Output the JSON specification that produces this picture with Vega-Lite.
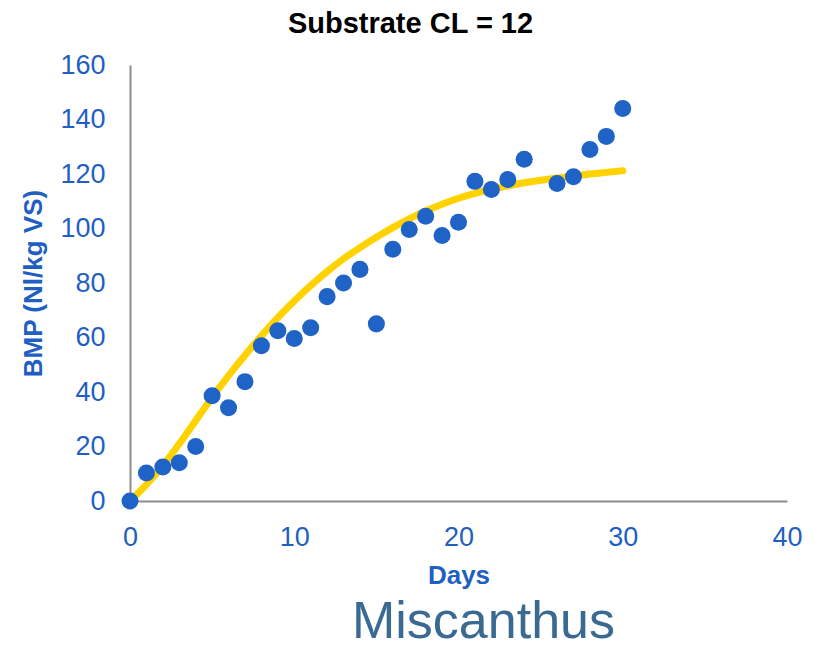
{
  "$schema": "https://vega.github.io/schema/vega-lite/v6.json",
  "background": "white",
  "padding": {"left": 20, "top": 10, "right": 10, "bottom": 0},
  "autosize": {"type": "pad"},
  "config": {"view": {"stroke": null}, "font": "Liberation Sans"},
  "datasets": {
    "obs": [
      {"day": 0, "bmp": 0}, {"day": 1, "bmp": 10.3}, {"day": 2, "bmp": 12.5}, {"day": 3, "bmp": 14},
      {"day": 4, "bmp": 20}, {"day": 5, "bmp": 38.6}, {"day": 6, "bmp": 34.2}, {"day": 7, "bmp": 43.8},
      {"day": 8, "bmp": 57}, {"day": 9, "bmp": 62.5}, {"day": 10, "bmp": 59.6}, {"day": 11, "bmp": 63.6},
      {"day": 12, "bmp": 75}, {"day": 13, "bmp": 80}, {"day": 14, "bmp": 85}, {"day": 15, "bmp": 65},
      {"day": 16, "bmp": 92.4}, {"day": 17, "bmp": 99.6}, {"day": 18, "bmp": 104.5}, {"day": 19, "bmp": 97.4},
      {"day": 20, "bmp": 102.3}, {"day": 21, "bmp": 117.3}, {"day": 22, "bmp": 114.3}, {"day": 23, "bmp": 118},
      {"day": 24, "bmp": 125.4}, {"day": 26, "bmp": 116.5}, {"day": 27, "bmp": 119}, {"day": 28, "bmp": 129},
      {"day": 29, "bmp": 133.8}, {"day": 30, "bmp": 144}
    ],
    "fit": [
      {"day": 0, "bmp": 0}, {"day": 1, "bmp": 6}, {"day": 2, "bmp": 13}, {"day": 3, "bmp": 21},
      {"day": 4, "bmp": 29.5}, {"day": 5, "bmp": 38}, {"day": 6, "bmp": 46}, {"day": 7, "bmp": 53.5},
      {"day": 8, "bmp": 60.6}, {"day": 9, "bmp": 67.3}, {"day": 10, "bmp": 73.4}, {"day": 11, "bmp": 79},
      {"day": 12, "bmp": 84.2}, {"day": 13, "bmp": 88.9}, {"day": 14, "bmp": 93}, {"day": 15, "bmp": 96.8},
      {"day": 16, "bmp": 100.3}, {"day": 17, "bmp": 103.5}, {"day": 18, "bmp": 106.4}, {"day": 19, "bmp": 108.9},
      {"day": 20, "bmp": 111.1}, {"day": 21, "bmp": 112.9}, {"day": 22, "bmp": 114.4}, {"day": 23, "bmp": 115.7},
      {"day": 24, "bmp": 116.8}, {"day": 25, "bmp": 117.7}, {"day": 26, "bmp": 118.5}, {"day": 27, "bmp": 119.3},
      {"day": 28, "bmp": 120}, {"day": 29, "bmp": 120.6}, {"day": 30, "bmp": 121.2}
    ]
  },
  "title": {
    "text": "Miscanthus",
    "orient": "bottom",
    "anchor": "middle",
    "fontSize": 52,
    "fontWeight": "normal",
    "font": "Liberation Sans",
    "color": "#3A6A92",
    "offset": 9,
    "dx": 72
  },
  "vconcat": [
    {
      "title": {
        "text": "Substrate CL = 12",
        "fontSize": 29,
        "fontWeight": "bold",
        "font": "Liberation Sans",
        "color": "#000000",
        "offset": 12,
        "dx": -48
      },
      "width": 657,
      "height": 436,
      "encoding": {
        "x": {
          "field": "day",
          "type": "quantitative",
          "scale": {"domain": [0, 40], "nice": false},
          "axis": {
            "title": "Days",
            "values": [0, 10, 20, 30, 40],
            "grid": false,
            "ticks": false,
            "tickSize": 0,
            "labelFlush": false,
            "domainColor": "#8c8c8c",
            "domainWidth": 2,
            "labelColor": "#1F5FC4",
            "labelFontSize": 27,
            "labelFont": "Liberation Sans",
            "labelPadding": 23,
            "titleColor": "#1F5FC4",
            "titleFontSize": 26,
            "titleFont": "Liberation Sans",
            "titleFontWeight": "bold",
            "titlePadding": 12
          }
        },
        "y": {
          "field": "bmp",
          "type": "quantitative",
          "scale": {"domain": [0, 160], "nice": false},
          "axis": {
            "title": "BMP (Nl/kg VS)",
            "values": [0, 20, 40, 60, 80, 100, 120, 140, 160],
            "grid": false,
            "ticks": false,
            "tickSize": 0,
            "labelFlush": false,
            "domainColor": "#8c8c8c",
            "domainWidth": 2,
            "labelColor": "#1F5FC4",
            "labelFontSize": 27,
            "labelFont": "Liberation Sans",
            "labelPadding": 25,
            "titleColor": "#1F5FC4",
            "titleFontSize": 26,
            "titleFont": "Liberation Sans",
            "titleFontWeight": "bold",
            "titlePadding": 13
          }
        }
      },
      "layer": [
        {
          "data": {"name": "fit"},
          "mark": {"type": "line", "color": "#FFD200", "strokeWidth": 7, "interpolate": "monotone", "strokeCap": "round"}
        },
        {
          "data": {"name": "obs"},
          "mark": {"type": "circle", "color": "#1F63C6", "opacity": 1, "size": 290}
        }
      ]
    }
  ]
}
